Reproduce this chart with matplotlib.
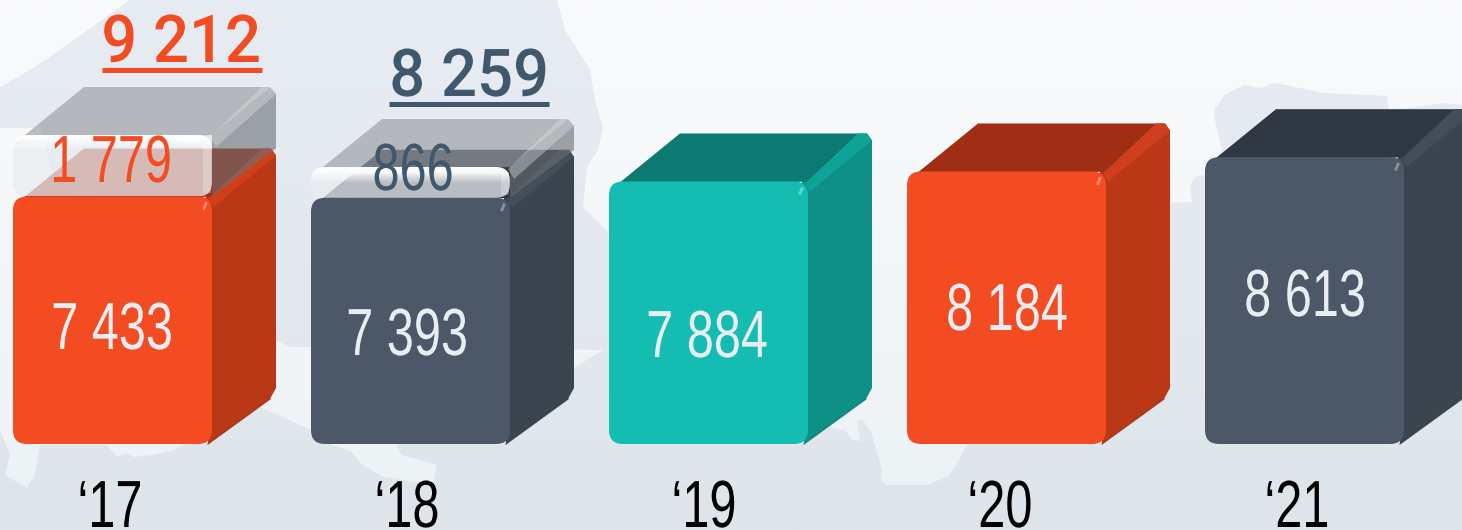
import numpy as np
import matplotlib
matplotlib.use("Agg")
import matplotlib.pyplot as plt
from matplotlib.patches import FancyBboxPatch, Polygon
from matplotlib.patheffects import AbstractPathEffect
from matplotlib.transforms import Affine2D
from matplotlib.colors import LinearSegmentedColormap, to_rgb

years = ["\u201817", "\u201818", "\u201819", "\u201820", "\u201821"]
base = [7433, 7393, 7884, 8184, 8613]
extra = [1779, 866, 0, 0, 0]
totals = [9212, 8259, None, None, None]

k = 0.0333  # px per unit
base_px = 444
W, H = 1462, 530
dx, dy = 64, 48
bar_w = 199
lefts = [13, 311, 609, 907, 1205]
front = ["#f34c23", "#4c5868", "#14bcb2", "#f34c23", "#4c5868"]
side = ["#bb3817", "#3b4550", "#0e9087", "#bb3817", "#3b4550"]
topc = ["#a02e14", "#2f3842", "#0c7a72", "#a02e14", "#2f3842"]
bevel = ["#cf3f1b", "#434e5b", "#0fa398", "#cf3f1b", "#434e5b"]
shadow = ["#8c2a10", "#2b333c", "#0a6f68", "#8c2a10", "#2b333c"]
value_x = [112, 407, 707, 1007, 1305]
value_base = [349, 355, 357, 330, 316]
year_x = [110, 407, 704, 1000, 1297]


class Narrow(AbstractPathEffect):
    # squeeze the glyphs sideways around their centre, no condensed font here
    def __init__(self, sx, cx):
        super().__init__()
        self.sx = sx
        self.cx = cx

    def draw_path(self, renderer, gc, tpath, affine, rgbFace=None):
        t = Affine2D().translate(-self.cx, 0).scale(self.sx, 1).translate(self.cx, 0)
        renderer.draw_path(gc, tpath, affine + t, rgbFace)


def fmt(v):
    return f"{v:,}".replace(",", " ")


def Y(px):
    return (base_px - px) / k


def DY(px):
    return px / k


def narrow_text(x, px, s, color, size=48, sx=0.73, family="Liberation Sans", **kw):
    ax.text(x, Y(px), s, color=color, fontsize=size, ha="center", va="baseline", family=family,
            path_effects=[Narrow(sx, x)], zorder=12, **kw)


fig = plt.figure(figsize=(W / 100, H / 100), dpi=100)
ax = fig.add_axes([0, 0, 1, 1])
ax.set_xlim(0, W)
ax.set_ylim(Y(H), Y(0))
ax.set_axis_off()

# background
grad = np.linspace(0, 1, 256).reshape(-1, 1)
bg = LinearSegmentedColormap.from_list("bg", ["#f9fafc", "#f4f7f9", "#ebf1f4"])
ax.imshow(grad, extent=(0, W, Y(H), Y(0)), cmap=bg, aspect="auto", zorder=0)
land = LinearSegmentedColormap.from_list("land", ["#e7ecf3", "#e3e9ef", "#dde5eb"])

map_parts = [
    [(0, 87), (30, 70), (50, 57), (130, 0), (557, 0), (565, 30), (590, 70), (595, 100), (603, 128), (598, 150),
     (587, 167), (583, 207), (608, 232), (620, 350), (311, 347), (290, 347), (275, 340), (100, 300), (60, 200),
     (40, 128), (0, 128)],
    [(0, 430), (10, 455), (5, 475), (27, 488), (35, 475), (40, 445), (107, 445), (117, 457), (126, 453), (134, 457),
     (153, 455), (172, 451), (182, 445), (240, 420), (260, 407), (311, 430), (333, 445), (352, 452), (360, 463),
     (383, 477), (433, 485), (437, 465), (402, 455), (396, 445), (520, 400), (620, 340), (790, 400), (823, 427),
     (845, 430), (852, 440), (860, 441), (857, 420), (863, 420), (871, 432), (882, 470), (881, 480), (886, 485),
     (928, 485), (950, 475), (967, 445), (1050, 400), (1120, 250), (1172, 203), (1192, 202), (1190, 187),
     (1195, 177), (1205, 175), (1222, 150), (1215, 120), (1214, 110), (1225, 95), (1244, 85), (1260, 88),
     (1275, 83), (1324, 93), (1387, 96), (1389, 110), (1430, 105), (1445, 103), (1462, 105), (1462, 530), (0, 530)],
]
for pts in map_parts:
    poly = Polygon([(x, Y(y)) for x, y in pts], closed=True, fc="none", ec="none")
    ax.add_patch(poly)
    im = ax.imshow(grad, extent=(0, W, Y(H), Y(0)), cmap=land, aspect="auto", zorder=1)
    im.set_clip_path(poly)

rnd = "round,pad=0,rounding_size=14"
asp = 1 / k

for i in range(len(years)):
    x0, v = lefts[i], base[i]
    x1 = x0 + bar_w
    d = DY(dy)
    # side and top faces
    ax.add_patch(Polygon([(x1 - 4, 0), (x1 + dx - 6, DY(dy - 3)), (x1 + dx, DY(dy + 8)), (x1 + dx, v + d - DY(7)),
                          (x1 + dx - 5, v + d), (x1 - 6, v)], fc=side[i], ec="none", zorder=3))
    ax.plot([x1 - 4, x1 + dx - 6], [0, DY(dy - 3)], color=shadow[i], lw=1, alpha=0.7, zorder=3)
    ax.add_patch(Polygon([(x0 + 1, v - DY(9)), (x0 + dx + 7, v + d), (x1 + dx - 5, v + d), (x1, v)],
                         fc=topc[i], ec="none", zorder=3))
    # bevelled edge
    ax.add_patch(Polygon([(x1 - 3, v - DY(2)), (x1 + dx - 14, v + d), (x1 + dx - 5, v + d), (x1 + dx, v + d - DY(7)),
                          (x1 + 2, v - DY(10))], fc=bevel[i], ec="none", zorder=4))
    ax.add_patch(FancyBboxPatch((x0, 0), bar_w, v, boxstyle=rnd, mutation_aspect=asp,
                                fc=front[i], ec="none", zorder=5))
    ax.plot([x1 - 8, x1 - 6], [v - DY(12), v - DY(7)], color="white", alpha=0.35, lw=2, zorder=6)
    narrow_text(value_x[i], value_base[i], fmt(v), "#e8edf2")
    narrow_text(year_x[i], 527, years[i], "black")

    # translucent upper part
    if extra[i]:
        top_px = 135 if i == 0 else 167
        y_low = v
        y_top = Y(top_px)
        ax.add_patch(Polygon([(x0 + 1, y_top - DY(9)), (x0 + dx + 7, y_top + d), (x1 + dx - 6, y_top + d), (x1, y_top)],
                             fc="#9a9ea1", alpha=0.65, ec="none", zorder=7))
        ax.add_patch(Polygon([(x1, y_top), (x1 + dx - 6, y_top + d), (x1 + dx, y_top + d - DY(7)),
                              (x1 + dx, y_low + d), (x1, y_low)],
                             fc="#6b7074", alpha=0.6, ec="none", zorder=7))
        ax.add_patch(Polygon([(x1 - 2, y_top - DY(2)), (x1 + dx - 14, y_top + d), (x1 + dx - 5, y_top + d),
                              (x1 + dx, y_top + d - DY(7)), (x1 + 4, y_top - DY(12))],
                             fc="#dfe3e5", alpha=0.38, ec="none", zorder=8))
        box = FancyBboxPatch((x0, y_low), bar_w, y_top - y_low, boxstyle=rnd, mutation_aspect=asp,
                             fc="none", ec="none", zorder=8)
        ax.add_patch(box)
        # white shine fades down the front of the box
        glass_px = (y_top - y_low) * k
        frac = np.linspace(0, glass_px, 80)
        shine = np.clip(1 - (frac - 5) / 11, 0, 1)
        rgba = np.zeros((80, 1, 4))
        rgba[:, 0, :3] = np.array(to_rgb("#e9edf1")) * (1 - shine[:, None]) + shine[:, None]
        rgba[:, 0, 3] = 0.74 + 0.24 * shine
        im = ax.imshow(rgba, extent=(x0, x1, y_low, y_top), aspect="auto", zorder=8)
        im.set_clip_path(box)
        ax.add_patch(Polygon([(x1 - 9, y_top - DY(5)), (x1 - 1, y_top - DY(5)), (x1 - 1, y_low + DY(3)),
                              (x1 - 9, y_low + DY(3))], fc="white", alpha=0.25, ec="none", zorder=9))

label_c = ["#f34c23", "#3f586c"]
total_pos = [(181, 62, 102, 262, 70), (469, 96, 389, 549, 104)]
extra_pos = [(111, 182), (413, 190)]
for i in range(2):
    tx, ty, u0, u1, uy = total_pos[i]
    narrow_text(tx, ty, fmt(totals[i]), label_c[i], size=47.5, sx=0.96, family="Roboto", fontweight="medium")
    ax.plot([u0, u1], [Y(uy), Y(uy)], color=label_c[i], lw=3.6, solid_capstyle="butt", zorder=12)
    ex, ey = extra_pos[i]
    narrow_text(ex, ey, fmt(extra[i]), label_c[i])

ax.set_xlim(0, W)
ax.set_ylim(Y(H), Y(0))
fig.savefig("out.png", dpi=100)
